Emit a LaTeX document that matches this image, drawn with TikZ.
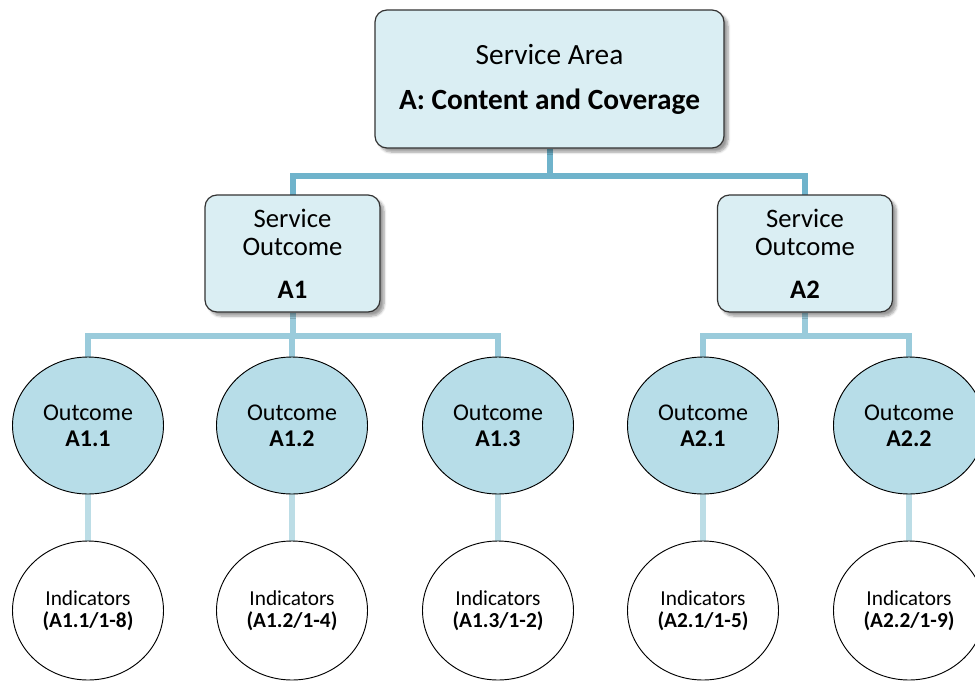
\documentclass[tikz,border=0pt]{standalone}
\usepackage{fontspec}
\setmainfont{Carlito}
\usetikzlibrary{shapes.geometric,shadows.blur,backgrounds}
\definecolor{boxblue}{HTML}{DAEEF3}
\definecolor{ovalblue}{HTML}{B7DDE8}
\definecolor{linkA}{HTML}{6FB3CB}
\definecolor{linkB}{HTML}{9ACBDB}
\definecolor{linkC}{HTML}{BCDDE6}

\begin{document}
\begin{tikzpicture}[x=0.75pt,y=-0.75pt,
  areabox/.style={draw=black!80,line width=0.9pt,fill=boxblue,rounded corners=9pt,
    blur shadow={shadow xshift=3pt,shadow yshift=-3pt,shadow blur steps=6},
    align=center,inner sep=0pt},
  outcome/.style={ellipse,draw,line width=0.7pt,fill=ovalblue,align=center,inner sep=0pt,
    minimum width=113.25pt,minimum height=102.75pt,font=\fontsize{18}{19.5}\selectfont},
  indic/.style={ellipse,draw,line width=0.7pt,fill=white,align=center,inner sep=0pt,
    minimum width=113.25pt,minimum height=104.25pt,font=\fontsize{16}{16.5}\selectfont},
  link/.style={line width=4.5pt}]
\useasboundingbox (0,0) rectangle (975,682);

\node[areabox,minimum width=261.75pt,minimum height=103.5pt,
  font=\fontsize{22}{33.75}\selectfont] (area) at (549.5,79)
  {Service Area\\\textbf{A: Content and Coverage}};

\node[areabox,minimum width=131.25pt,minimum height=87.75pt,
  font=\fontsize{20}{21}\selectfont] (so1) at (292.5,253.5)
  {Service\\Outcome\\[11.25pt]\textbf{A1}};
\node[areabox,minimum width=131.25pt,minimum height=87.75pt,
  font=\fontsize{20}{21}\selectfont] (so2) at (805,253.5)
  {Service\\Outcome\\[11.25pt]\textbf{A2}};

\begin{scope}[on background layer]
\draw[link,linkA] (area.south) -- ++(0,27) -| (so1.center);
\draw[link,linkA] (area.south) -- ++(0,27) -| (so2.center);
\end{scope}

% outcomes and their indicators
\foreach \id/\x/\up/\lab/\rng in {11/88/1/A1.1/1-8, 12/292/1/A1.2/1-4, 13/498/1/A1.3/1-2,
    21/703/2/A2.1/1-5, 22/909/2/A2.2/1-9}{
  \node[outcome] (o\id) at (\x,425.5) {Outcome\\\textbf{\lab}};
  \node[indic] (i\id) at (\x,610.5) {Indicators\\\textbf{(\lab/\rng)}};
  \begin{scope}[on background layer]
  \draw[link,linkB] (so\up.south) -- ++(0,23.5) -| (o\id.center);
  \draw[link,linkC] (o\id) -- (i\id);
  \end{scope}
}

\end{tikzpicture}
\end{document}
